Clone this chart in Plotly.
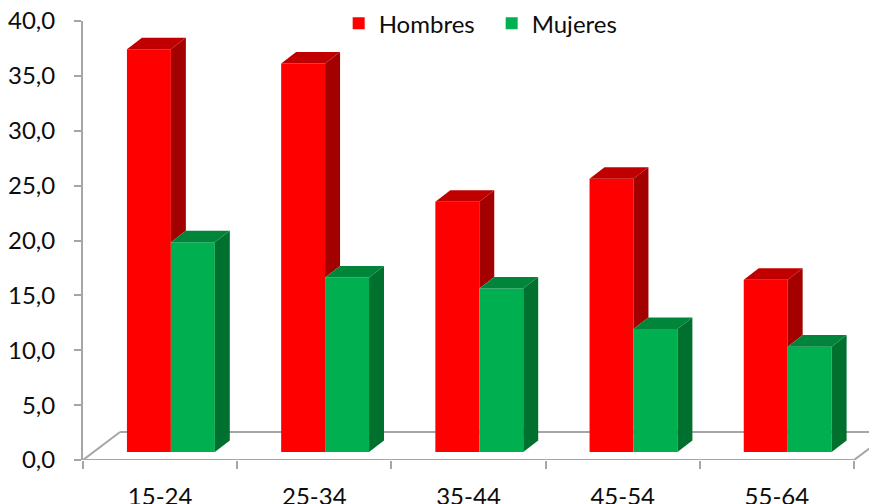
import plotly.graph_objects as go
import numpy as np

categories = ["15-24", "25-34", "35-44", "45-54", "55-64"]
hombres = [36.7, 35.4, 22.8, 24.9, 15.7]
mujeres = [19.1, 15.9, 14.9, 11.2, 9.6]
y_ticks = [0, 5, 10, 15, 20, 25, 30, 35, 40]

# geometry (data units)
BW = 0.285          # bar width
BASE = 0.73         # bar front-face baseline (depth shift)
DDX, DDY = 0.097, 1.05   # bar side depth offset
FDX, FDY = 0.24, 2.55    # floor depth
off_h = -0.0725
off_m = off_h + BW

colors = {
    "Hombres": ("#FF0000", "#C00000", "#A30000"),
    "Mujeres": ("#00B050", "#00853B", "#00702F"),
}

fig = go.Figure()
idx = np.arange(len(categories))

def add_series(name, vals, off, other=None):
    front, top, side = colors[name]
    fig.add_trace(go.Bar(x=idx + off, y=vals, base=BASE, width=BW, name=name,
                         marker=dict(color=front, line=dict(width=0)),
                         hoverinfo="skip"))
    for i, v in enumerate(vals):
        x0 = i + off - BW / 2
        x1 = x0 + BW
        t = BASE + v
        lo = BASE if other is None else BASE + min(other[i], v)
        fig.add_trace(go.Scatter(
            x=[x1, x1 + DDX, x1 + DDX, x1, x1],
            y=[lo, lo + DDY, t + DDY, t, lo],
            fill="toself", mode="lines", line=dict(width=0), fillcolor=side,
            showlegend=False, hoverinfo="skip"))
        fig.add_trace(go.Scatter(
            x=[x0, x1, x1 + DDX, x0 + DDX, x0],
            y=[t, t, t + DDY, t + DDY, t],
            fill="toself", mode="lines", line=dict(width=0), fillcolor=top,
            showlegend=False, hoverinfo="skip"))

add_series("Hombres", hombres, off_h, other=mujeres)
add_series("Mujeres", mujeres, off_m)

grey = "#A6A6A6"
n = len(categories)
left, right = -0.5, n - 0.5
floor = [
    (left, 0, right, 0),
    (left, 0, left + FDX, FDY),
    (right, 0, right + FDX, FDY),
    (left + FDX, FDY, right + FDX, FDY),
]
for (xa, ya, xb, yb) in floor:
    fig.add_shape(type="line", x0=xa, y0=ya, x1=xb, y1=yb, xref="x", yref="y",
                  line=dict(color=grey, width=2), layer="below")

font = dict(family="Lato", size=24, color="#0D0D0D")

fig.update_layout(
    width=869, height=496,
    margin=dict(l=75, r=0, t=13, b=44, autoexpand=False),
    plot_bgcolor="white", paper_bgcolor="white",
    separators=",.",
    barmode="overlay",
    font=font,
    showlegend=True,
    legend=dict(orientation="h", x=0.322, y=1.045, xanchor="left", yanchor="top",
                font=font, bgcolor="rgba(0,0,0,0)", itemclick=False,
                entrywidth=108),
    xaxis=dict(range=[left, right + 23 / 154.2], tickvals=list(idx),
               ticktext=categories, ticks="", showline=False, showgrid=False,
               zeroline=False, ticklabelstandoff=20, automargin=False,
               ticklabeloverflow="allow",
               minor=dict(tickvals=[i - 0.5 for i in range(n + 1)], ticks="outside",
                          ticklen=8, tickwidth=2, tickcolor=grey, showgrid=False)),
    yaxis=dict(range=[0, 40], tickvals=y_ticks, tickformat=".1f", ticks="outside",
               ticklen=7, tickwidth=2, tickcolor=grey, showline=True, linecolor=grey,
               linewidth=2, showgrid=False, zeroline=False, ticklabelstandoff=14,
               automargin=False, ticklabeloverflow="allow"),
)

fig.write_html("out.html")
